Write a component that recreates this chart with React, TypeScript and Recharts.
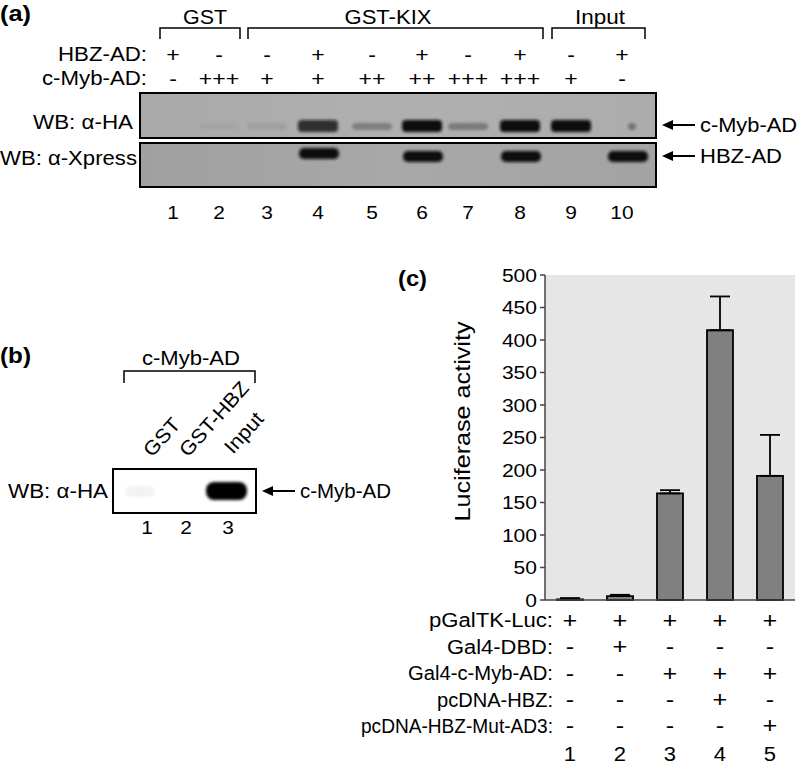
import React from 'react';
import { BarChart, Bar, XAxis, YAxis, ErrorBar, CartesianGrid } from 'recharts';

// ---------- panel (c) data ----------
const lanesC = ['1', '2', '3', '4', '5'];
const luciferase = [1, 6, 164, 415, 191];
const luciferaseErr = [2, 2, 5, 52, 63];
const yTicks = [0, 50, 100, 150, 200, 250, 300, 350, 400, 450, 500];
const rowLabelsC = ['pGalTK-Luc:', 'Gal4-DBD:', 'Gal4-c-Myb-AD:', 'pcDNA-HBZ:', 'pcDNA-HBZ-Mut-AD3:'];
const pGalTKLuc = ['+', '+', '+', '+', '+'];
const gal4DBD = ['-', '+', '-', '-', '-'];
const gal4cMybAD = ['-', '-', '+', '+', '+'];
const pcdnaHBZ = ['-', '-', '-', '+', '-'];
const pcdnaHBZMut = ['-', '-', '-', '-', '+'];

// ---------- panel (a) data ----------
const lanesA = ['1', '2', '3', '4', '5', '6', '7', '8', '9', '10'];
const hbzAD = ['+', '-', '-', '+', '-', '+', '-', '+', '-', '+'];
const cMybAD = ['-', '+++', '+', '+', '++', '++', '+++', '+++', '+', '-'];
const haSignal = [0, 0.04, 0.07, 0.8, 0.28, 1, 0.3, 1, 1, 0.06];
const xpressSignal = [0, 0, 0, 1, 0, 1, 0, 1, 0, 1];

// ---------- panel (b) data ----------
const lanesB = ['1', '2', '3'];
const lanesBLabels = ['GST', 'GST-HBZ', 'Input'];
const haSignalB = [0.05, 0, 1];

const data = lanesC.map((l, i) => ({
  lane: l,
  value: luciferase[i],
  err: [0, luciferaseErr[i]],
}));
const rowsC = [pGalTKLuc, gal4DBD, gal4cMybAD, pcdnaHBZ, pcdnaHBZMut];

const FONT = '"Liberation Sans", Arial, sans-serif';

// text measuring for the slightly wide lettering of the figure
let _ctx: CanvasRenderingContext2D | null = null;
function tw(s: string, size: number, bold = false) {
  if (!_ctx && typeof document !== 'undefined') _ctx = document.createElement('canvas').getContext('2d');
  if (!_ctx) return s.length * size * 0.55;
  _ctx.font = `${bold ? 'bold ' : ''}${size}px "Liberation Sans"`;
  return _ctx.measureText(s).width;
}

type SProps = {
  x: number; y: number; s: string; size?: number; anchor?: 'start' | 'middle' | 'end';
  w?: number; k?: number; bold?: boolean; transform?: string; db?: string;
};
const S = ({ x, y, s, size = 19.5, anchor = 'start', w, k = 1.1, bold = false, transform, db = 'central' }: SProps) => (
  <text x={x} y={y} textAnchor={anchor} dominantBaseline={db} fontFamily={FONT} fontSize={size}
    fontWeight={bold ? 'bold' : 'normal'} fill="#000" textLength={w ?? tw(s, size, bold) * k}
    lengthAdjust="spacingAndGlyphs" transform={transform}>{s}</text>
);

// layout helpers (non-data)
const laneAX = [173, 219, 267, 318, 372, 422, 468, 520, 571, 622];
const laneBX = [147, 186, 228];
const rowOffsetsC = [20, 46.5, 73, 99.5, 125.5];
const rowWidthsC = [124, 106, 145, 116, 192];

const TableTick = (props: any) => {
  const { x, y, payload } = props;
  const i = payload.index;
  return (
    <g>
      {rowsC.map((r, k) => (
        <S key={k} x={x} y={y + rowOffsetsC[k]} anchor="middle" size={22} s={r[i]} k={1.15} />
      ))}
      <S x={x} y={y + 154} anchor="middle" size={20} s={lanesC[i]} />
    </g>
  );
};

const YTick = (props: any) => {
  const { x, y, payload } = props;
  const s = String(payload.value);
  return <S x={x} y={y} anchor="end" size={19} s={s} w={s.length * 11.7} />;
};

const YLabel = (props: any) => {
  const vb = props.viewBox || {};
  const cx = 62;
  const cy = (vb.y ?? 15) + (vb.height ?? 325) / 2 - 16;
  return <S x={cx} y={cy} anchor="middle" size={22} s="Luciferase activity" w={200} transform={`rotate(-90 ${cx} ${cy})`} />;
};

const Arrow = ({ x, y, label, w, k }: { x: number; y: number; label: string; w?: number; k?: number }) => (
  <g>
    <polygon points={`${x},${y} ${x + 11},${y - 5} ${x + 11},${y + 5}`} fill="#000" />
    <line x1={x + 9} y1={y} x2={x + 33} y2={y} stroke="#000" strokeWidth={2} />
    <S x={x + 38} y={y} s={label} size={19.5} w={w} k={k} />
  </g>
);

export default function App() {
  return (
    <div style={{ position: 'absolute', left: 0, top: 0, width: 800, height: 768, background: '#fff', overflow: 'hidden', fontFamily: FONT }}>
      <svg width={800} height={768} style={{ position: 'absolute', left: 0, top: 0 }}>
        <defs>
          <filter id="blur" x="-30%" y="-80%" width="160%" height="260%">
            <feGaussianBlur stdDeviation="1.6" />
          </filter>
          <linearGradient id="blotA" x1="0" x2="1" y1="0" y2="0">
            <stop offset="0" stopColor="#a9a9a9" />
            <stop offset="0.5" stopColor="#b0b0b0" />
            <stop offset="1" stopColor="#acacac" />
          </linearGradient>
          <linearGradient id="blotB" x1="0" x2="1" y1="0" y2="0">
            <stop offset="0" stopColor="#a0a0a0" />
            <stop offset="0.5" stopColor="#a8a8a8" />
            <stop offset="1" stopColor="#a3a3a3" />
          </linearGradient>
        </defs>

        {/* ---------- (a) ---------- */}
        <S x={0} y={13} s="(a)" size={22} bold w={31} />
        <S x={205} y={16} s="GST" size={20.5} anchor="middle" w={44} />
        <S x={388} y={16} s="GST-KIX" size={20.5} anchor="middle" w={87} />
        <S x={600} y={16} s="Input" size={20.5} anchor="middle" w={50} />
        <path d="M160 39 V28 H240 V39" fill="none" stroke="#000" strokeWidth={1.5} />
        <path d="M248 39 V28 H543 V39" fill="none" stroke="#000" strokeWidth={1.5} />
        <path d="M552 39 V28 H645 V39" fill="none" stroke="#000" strokeWidth={1.5} />
        <S x={147} y={54} s="HBZ-AD:" anchor="end" w={89} />
        <S x={147} y={78} s="c-Myb-AD:" anchor="end" w={105} />
        {lanesA.map((l, i) => (
          <g key={l}>
            <S x={laneAX[i]} y={54} anchor="middle" size={21} s={hbzAD[i]} />
            <S x={laneAX[i]} y={78} anchor="middle" size={21} s={cMybAD[i]} />
            <S x={laneAX[i]} y={212} anchor="middle" size={19} s={l} />
          </g>
        ))}
        <rect x={140} y={93} width={516} height={45} fill="url(#blotA)" stroke="#000" strokeWidth={2} />
        <rect x={140} y={143} width={516} height={44} fill="url(#blotB)" stroke="#000" strokeWidth={2} />
        <g filter="url(#blur)">
          {haSignal.map((s, i) => s > 0 && (
            <rect key={'ha' + i} x={laneAX[i] - 20 + (i === 9 ? 26 : 0)} y={s > 0.5 ? 120 : 123}
              width={i === 9 ? 8 : 40} height={s > 0.5 ? 12 : 7}
              rx={4} fill="#0a0a0a" opacity={i === 9 ? 0.35 : s} />
          ))}
          {xpressSignal.map((s, i) => s > 0 && (
            <rect key={'xp' + i} x={laneAX[i] - 19 + (i === 9 ? 5 : 0)} y={i === 3 ? 148 : 151} width={40} height={11}
              rx={5} fill="#0a0a0a" opacity={s} />
          ))}
        </g>
        <S x={133} y={122} s="WB: α-HA" anchor="end" size={20} w={100} />
        <S x={137} y={158} s="WB: α-Xpress" anchor="end" size={20} w={137} />
        <Arrow x={662} y={125} label="c-Myb-AD" w={97} />
        <Arrow x={662} y={156} label="HBZ-AD" w={82} />

        {/* ---------- (b) ---------- */}
        <S x={0} y={355} s="(b)" size={22} bold w={31} />
        <S x={191} y={358} s="c-Myb-AD" anchor="middle" w={98} />
        <path d="M124 383 V371 H255 V383" fill="none" stroke="#000" strokeWidth={1.5} />
        {lanesBLabels.map((lab, i) => {
          const sx = [152, 188, 233][i];
          const sy = [458, 458, 455][i];
          return <S key={lab} x={sx} y={sy} s={lab} size={20} k={1.07} db="alphabetic"
            transform={`rotate(-48 ${sx} ${sy})`} />;
        })}
        <rect x={113} y={469} width={143} height={44} fill="#fff" stroke="#000" strokeWidth={2} />
        <g filter="url(#blur)">
          {haSignalB.map((s, i) => s > 0 && (
            <rect key={'hb' + i} x={(i === 2 ? 226 : 140) - (i === 2 ? 20 : 15)} y={i === 2 ? 482 : 486}
              width={i === 2 ? 41 : 30} height={i === 2 ? 18 : 11} rx={8} fill="#000" opacity={s} />
          ))}
        </g>
        <S x={108} y={491} s="WB: α-HA" anchor="end" size={20} w={100} />
        <Arrow x={262} y={491} label="c-Myb-AD" k={1.05} />
        {lanesB.map((l, i) => (
          <S key={l} x={laneBX[i]} y={527} anchor="middle" size={19} s={l} />
        ))}

        {/* ---------- (c) ---------- */}
        <S x={398} y={278} s="(c)" size={22} bold w={29} />
        {rowLabelsC.map((r, k) => (
          <S key={r} x={553} y={600 + rowOffsetsC[k]} anchor="end" size={19.5} s={r} w={rowWidthsC[k]} />
        ))}
      </svg>

      <div style={{ position: 'absolute', left: 400, top: 260 }}>
        <BarChart width={400} height={508} data={data} margin={{ top: 15, right: 5, bottom: 0, left: 0 }}
          barCategoryGap="24%">
          <CartesianGrid horizontal={false} vertical={false} fill="#e6e6e6" />
          <XAxis dataKey="lane" height={168} tickLine={false} tickSize={0} tickMargin={0}
            axisLine={{ stroke: '#444', strokeWidth: 1.5 }} tick={<TableTick />} interval={0} />
          <XAxis xAxisId="top" orientation="top" dataKey="lane" height={0} tick={false} tickLine={false}
            axisLine={{ stroke: '#444', strokeWidth: 1.5 }} />
          <YAxis width={145} domain={[0, 500]} ticks={yTicks} interval={0} tickSize={5} tickMargin={3}
            axisLine={{ stroke: '#444', strokeWidth: 1.5 }} tickLine={{ stroke: '#444', strokeWidth: 1.5 }}
            tick={<YTick />} label={<YLabel />} />
          <YAxis yAxisId="right" orientation="right" width={0} domain={[0, 500]} tick={false} tickLine={false}
            axisLine={{ stroke: '#444', strokeWidth: 1.5 }} />
          <Bar dataKey="value" fill="#808080" stroke="#000" strokeWidth={1.8} isAnimationActive={false}>
            <ErrorBar dataKey="err" width={10} stroke="#000" strokeWidth={1.8} direction="y" />
          </Bar>
        </BarChart>
      </div>
    </div>
  );
}
